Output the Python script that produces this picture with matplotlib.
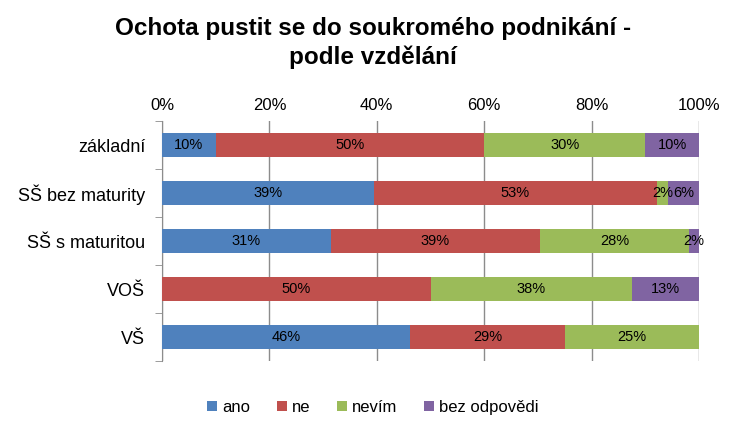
import matplotlib.pyplot as plt
import numpy as np

plt.rcParams['font.family'] = ['Liberation Sans', 'DejaVu Sans']

categories = ["základní", "SŠ bez maturity", "SŠ s maturitou", "VOŠ", "VŠ"]
series = ["ano", "ne", "nevím", "bez odpovědi"]
colors = ["#4f81bd", "#c0504d", "#9bbb59", "#8064a2"]

ano = [10, 39.4, 31.4, 0, 46.2]
ne = [50, 52.8, 39.0, 50, 28.8]
nevim = [30, 2.0, 27.8, 37.5, 25.0]
bez = [10, 5.8, 1.8, 12.5, 0]

values = [ano, ne, nevim, bez]


def fmt(v):
    return "%d%%" % int(v + 0.5)


fig = plt.figure(figsize=(7.46, 4.30), dpi=100)
ax = fig.add_axes([162 / 746, 1 - 361 / 430, 537 / 746, 240 / 430])

y = np.arange(len(categories))
left = np.zeros(len(categories))
for name, vals, col in zip(series, values, colors):
    vals = np.array(vals)
    ax.barh(y, vals, left=left, height=0.5, color=col, label=name, zorder=3)
    for yi, l, v in zip(y, left, vals):
        if v > 0:
            ax.text(l + v / 2, yi, fmt(v), ha='center', va='center',
                    fontsize=10.5, color='black', zorder=4)
    left = left + vals

ax.set_xlim(0, 100)
ax.set_ylim(len(categories) - 0.5, -0.5)
ax.xaxis.tick_top()
ax.set_xticks(np.arange(0, 101, 20))
ax.set_xticklabels(["%d%%" % t for t in range(0, 101, 20)], fontsize=12)
ax.tick_params(axis='x', length=0, pad=6)
ax.grid(axis='x', color='#8c8c8c', linewidth=1, zorder=0)

ax.set_yticks(y)
ax.set_yticklabels(categories, fontsize=13)
ax.set_yticks(np.arange(-0.5, len(categories), 1), minor=True)
ax.tick_params(axis='y', which='major', length=0, pad=12)
ax.tick_params(axis='y', which='minor', length=5, color='#8c8c8c', direction='out')

for s in ['top', 'right', 'bottom']:
    ax.spines[s].set_visible(False)
ax.spines['left'].set_color('#8c8c8c')

fig.suptitle("Ochota pustit se do soukromého podnikání -\npodle vzdělání",
             fontsize=17.5, fontweight='bold', y=0.96, linespacing=1.3)

fig.legend(loc='lower center', bbox_to_anchor=(0.5, 0.0), ncol=4, frameon=False,
           fontsize=12, handlelength=0.6, handleheight=0.6, handletextpad=0.3,
           columnspacing=1.6)

fig.savefig("out.png", dpi=100)
